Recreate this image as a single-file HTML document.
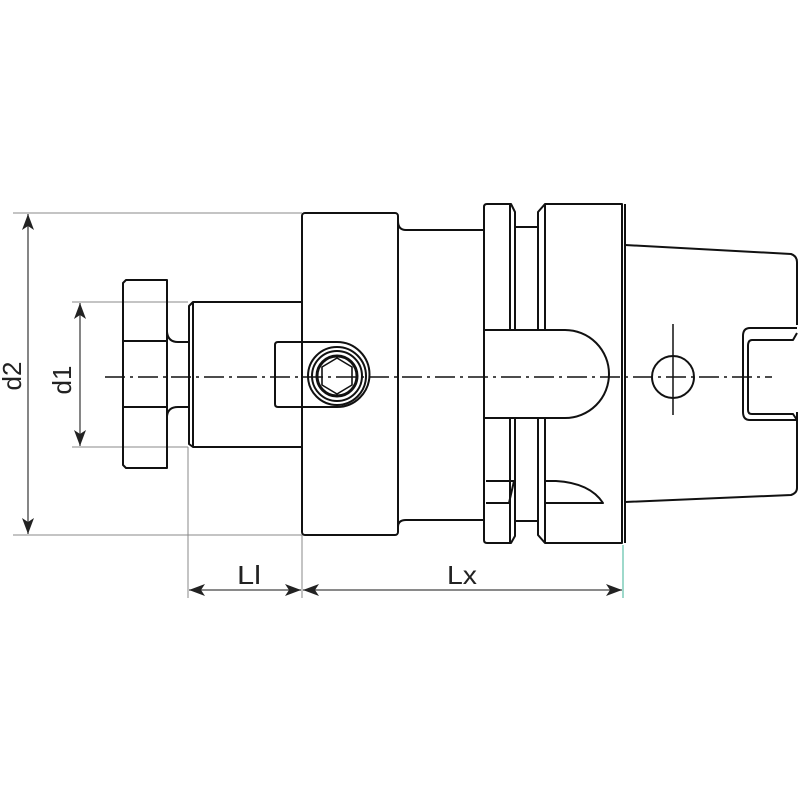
<!DOCTYPE html>
<html><head><meta charset="utf-8"><style>
html,body{margin:0;padding:0;background:#fff;}
svg{display:block;}
text{font-family:"Liberation Sans",sans-serif;font-size:26px;fill:#222;}
</style></head><body>
<svg width="800" height="800" viewBox="0 0 800 800" xmlns="http://www.w3.org/2000/svg">
<defs>
<marker id="ar" viewBox="0 0 16 12" refX="16" refY="6" markerWidth="16" markerHeight="12" orient="auto-start-reverse" markerUnits="userSpaceOnUse">
<path d="M0,0 L16,6 L0,12 L4,6 Z" fill="#222"/>
</marker>
</defs>
<g stroke="#888" stroke-width="1" fill="none">
<line x1="13" y1="213" x2="302" y2="213"/>
<line x1="13" y1="535" x2="302" y2="535"/>
<line x1="72" y1="302" x2="188" y2="302"/>
<line x1="72" y1="447" x2="188" y2="447"/>
<line x1="188" y1="447" x2="188" y2="598"/>
<line x1="302" y1="535" x2="302" y2="598"/>
</g>
<line x1="623" y1="545" x2="623" y2="598" stroke="#5cbfa8" stroke-width="1.2"/>
<g stroke="#444" stroke-width="1.3" fill="none">
<line x1="28" y1="214" x2="28" y2="534" marker-start="url(#ar)" marker-end="url(#ar)"/>
<line x1="80" y1="303" x2="80" y2="446" marker-start="url(#ar)" marker-end="url(#ar)"/>
<line x1="189" y1="590" x2="301" y2="590" marker-start="url(#ar)" marker-end="url(#ar)"/>
<line x1="303" y1="590" x2="622" y2="590" marker-start="url(#ar)" marker-end="url(#ar)"/>
</g>
<text x="14" y="376" text-anchor="middle" transform="rotate(-90 14 376)" dominant-baseline="middle">d2</text>
<text x="64" y="380" text-anchor="middle" transform="rotate(-90 64 380)" dominant-baseline="middle">d1</text>
<text x="249" y="584" text-anchor="middle" textLength="24" lengthAdjust="spacingAndGlyphs">Ll</text>
<text x="462" y="584" text-anchor="middle" textLength="30" lengthAdjust="spacingAndGlyphs">Lx</text>

<g stroke="#111" stroke-width="2" fill="none" stroke-linejoin="round">
<path d="M126,280 L167,280 L167,468 L126,468 L123,465 L123,283 Z"/>
<line x1="123" y1="341" x2="167" y2="341"/>
<line x1="123" y1="407" x2="167" y2="407"/>
<path d="M167,332 Q168,342 178,342 L188,342"/>
<path d="M167,416 Q168,407 178,407 L188,407"/>
<path d="M302,302 L193,302 L189,306 L189,444 L193,447 L302,447"/>
<line x1="193" y1="302" x2="193" y2="447"/>
<rect x="302" y="213" width="96" height="322" rx="3"/>
<path d="M302,342 L278,342 Q275,342 275,345 L275,404 Q275,407 278,407 L337,407 A30,30 0 0 0 337,342 L302,342"/>
<circle cx="337" cy="376" r="29" fill="#fff"/>
<circle cx="337" cy="376" r="25"/>
<circle cx="337" cy="376" r="20" stroke-width="3"/>
<polygon points="337,358 352,367 352,385 337,394 322,385 322,367" stroke-width="1.6"/>
<path d="M398,221 Q398,230 406,230 L483,230"/>
<path d="M398,527 Q398,520 406,520 L483,520"/>
<path d="M487,204 L511,204 L515,212 L515,536 L511,543 L487,543 Q484,543 484,540 L484,207 Q484,204 487,204 Z"/>
<line x1="510" y1="204" x2="510" y2="543"/>
<path d="M515,227 L538,227 M515,521 L538,521"/>
<path d="M545,204 L622,204 L622,543 L545,543 L538,535 L538,212 Z"/>
<line x1="545" y1="204" x2="545" y2="543"/>
<line x1="625" y1="204" x2="625" y2="543"/>
<path d="M485,330 L565,330 A44,44 0 0 1 565,418 L485,418" fill="#fff"/>
<path d="M486,481 L514,481 L509,503 L486,503"/>
<path d="M545,481 L556,481 Q590,483 603,503 L545,503"/>
<path d="M625,245 L791,254 Q797,256 797,262 L797,325"/>
<path d="M625,502 L791,495 Q797,493 797,488 L797,412"/>
<path d="M797,328 L750,328 Q743,328 743,336 L743,412 Q743,420 750,420 L797,420"/>
<path d="M797,333 L793,340 L752,340 Q748,340 748,346 L748,410 Q748,414 752,414 L793,414 L797,420"/>
<circle cx="673" cy="377" r="21"/>
<line x1="673" y1="324" x2="673" y2="415" stroke-width="1.5"/>
</g>
<line x1="105" y1="377" x2="772" y2="377" stroke="#111" stroke-width="1.5" stroke-dasharray="20,5,3,5"/>
</svg>
</body></html>
